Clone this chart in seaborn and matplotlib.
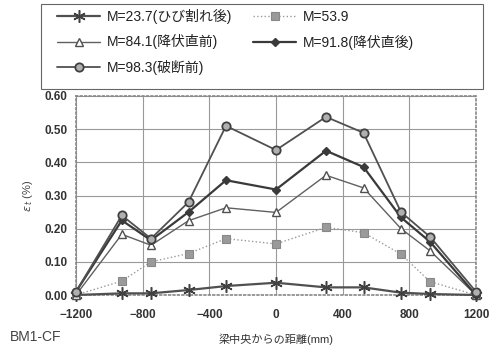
import matplotlib
matplotlib.use("Agg")
import matplotlib.pyplot as plt
from matplotlib.patches import Rectangle
import seaborn as sns
import pandas as pd

# Distance from beam centre (mm)
positions = [-1200, -925, -750, -525, -300, 0, 300, 525, 750, 925, 1200]

# Strain (%) per load level
m237 = [0.0, 0.005, 0.005, 0.015, 0.027, 0.037, 0.023, 0.023, 0.007, 0.003, 0.0]
m539 = [0.0, 0.042, 0.10, 0.125, 0.17, 0.154, 0.204, 0.188, 0.123, 0.04, 0.0]
m841 = [0.0, 0.183, 0.15, 0.224, 0.263, 0.249, 0.361, 0.323, 0.20, 0.133, 0.0]
m918 = [0.01, 0.225, 0.165, 0.25, 0.346, 0.318, 0.435, 0.386, 0.234, 0.16, 0.0]
m983 = [0.01, 0.24, 0.17, 0.28, 0.51, 0.437, 0.537, 0.489, 0.25, 0.175, 0.01]

labels = ["M=23.7(ひび割れ後)", "M=53.9", "M=84.1(降伏直前)",
          "M=91.8(降伏直後)", "M=98.3(破断前)"]
values = [m237, m539, m841, m918, m983]

sns.set_style("white")
plt.rcParams['font.family'] = ['Liberation Sans', 'Noto Sans CJK JP', 'DejaVu Sans']

# marker / line styles for each series
styles = [
    dict(marker=(6, 2, 0), markersize=9, color='#505050', lw=1.6, ls='-',
         mfc='#505050', mec='#404040', mew=1.1),
    dict(marker='s', markersize=5.5, color='#9a9a9a', lw=1.0, ls=':',
         mfc='#9a9a9a', mec='#888888', mew=0.8),
    dict(marker='^', markersize=6, color='#606060', lw=1.0, ls='-',
         mfc='white', mec='#505050', mew=1.0),
    dict(marker='D', markersize=4.5, color='#3a3a3a', lw=1.6, ls='-',
         mfc='#3a3a3a', mec='#3a3a3a', mew=1.0),
    dict(marker='o', markersize=6, color='#505050', lw=1.3, ls='-',
         mfc='#b0b0b0', mec='#404040', mew=1.3),
]

fig = plt.figure(figsize=(4.93, 3.5), dpi=100)
ax = fig.add_axes([76 / 493, 1 - 295 / 350, 400 / 493, 199 / 350])

for lab, vals, st in zip(labels, values, styles):
    df = pd.DataFrame({'x': positions, 'y': vals})
    sns.lineplot(data=df, x='x', y='y', ax=ax, label=lab,
                 marker=st['marker'], markersize=st['markersize'],
                 color=st['color'], linewidth=st['lw'], linestyle=st['ls'],
                 markerfacecolor=st['mfc'], markeredgecolor=st['mec'],
                 markeredgewidth=st['mew'], clip_on=False, zorder=3)

ax.set_xlim(-1200, 1200)
ax.set_ylim(0, 0.6)
ax.set_xticks(range(-1200, 1201, 400))
ax.set_yticks([i / 10 for i in range(7)])
ax.set_yticklabels([f"{i / 10:.2f}" for i in range(7)])
ax.tick_params(axis='both', labelsize=8.5, length=0)
ax.tick_params(axis='x', pad=10)
ax.tick_params(axis='y', pad=6)
for t in ax.get_xticklabels() + ax.get_yticklabels():
    t.set_fontweight('bold')
    t.set_color('#333333')
ax.grid(True, color='#999999', lw=0.8)
for s in ax.spines.values():
    s.set_color('#888888')
    s.set_linestyle(':')
    s.set_linewidth(1.2)

ax.set_xlabel("梁中央からの距離(mm)", fontsize=8, labelpad=9, color='#333333')
ax.set_ylabel(r"$\varepsilon_{\,t}$ (%)", fontsize=8, labelpad=7, color='#444444')
fig.text(10 / 493, 1 - 337 / 350, "BM1-CF", fontsize=10, color='#444444',
         va='center', ha='left')

# legend, row-major order like the original (two columns)
handles, labs = ax.get_legend_handles_labels()
ax.get_legend().remove()
order = [0, 2, 4, 1, 3]
leg = fig.legend([handles[i] for i in order], [labs[i] for i in order],
                 loc='upper left', ncol=2,
                 bbox_to_anchor=(57 / 493, 1 - 9 / 350),
                 frameon=False, fontsize=10, handlelength=3.1,
                 handletextpad=0.5, labelspacing=0.75, columnspacing=1.5,
                 borderaxespad=0.0, borderpad=0.0)
for t in leg.get_texts():
    t.set_color('#222222')
fig.patches.append(Rectangle((41 / 493, 1 - 89 / 350), 442 / 493, 85 / 350,
                             transform=fig.transFigure, fill=False,
                             edgecolor='#666666', lw=0.8))

fig.savefig("out.png", dpi=100)
